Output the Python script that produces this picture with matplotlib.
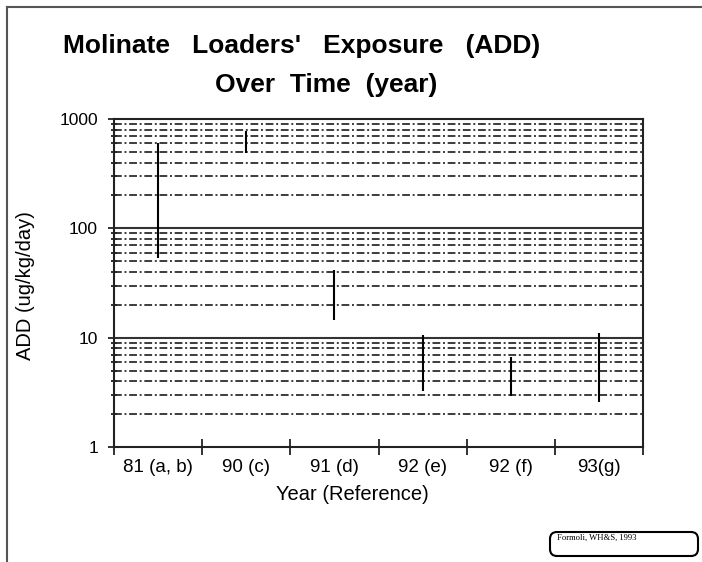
import matplotlib
matplotlib.use("Agg")
import matplotlib.pyplot as plt
from matplotlib.lines import Line2D
from matplotlib.patches import FancyBboxPatch
from matplotlib.ticker import FixedLocator, NullFormatter
import numpy as np

plt.rcParams['font.family'] = ['Liberation Sans', 'DejaVu Sans']

# ---- data ----
categories = ["81 (a, b)", "90 (c)", "91 (d)", "92 (e)", "92 (f)", "93(g)"]
add_low = [53, 485, 14.5, 3.27, 2.92, 2.6]
add_high = [600, 776, 42, 10.6, 6.7, 11.0]
y_major = [1, 10, 100, 1000]
y_major_labels = ["1", "10", "100", "1000"]
title_line1 = "Molinate   Loaders'   Exposure   (ADD)"
title_line2 = "Over  Time  (year)"
x_label = "Year (Reference)"
y_label = "ADD (ug/kg/day)"
source_note = "Formoli, WH&S, 1993"

W, H = 702, 562
fig = plt.figure(figsize=(W / 100, H / 100), dpi=100)
fig.patch.set_facecolor("white")

left, right, top, bottom = 114, 643, 119, 447
ax = fig.add_axes([left / W, 1 - bottom / H, (right - left) / W, (bottom - top) / H])
ax.set_yscale("log")
ax.set_ylim(1, 1000)
n = len(categories)
ax.set_xlim(0, n)

# grid lines
minor_vals = [m * 10 ** d for d in range(0, 3) for m in range(2, 10)]
for v in minor_vals:
    ax.axhline(v, color="#3c3c3c", lw=1.4, linestyle=(0, (4, 1.4, 1, 1.4)), zorder=1)
for v in y_major[1:-1]:
    ax.axhline(v, color="#333333", lw=1.5, zorder=1)

# range bars
xc = np.arange(n) + 0.5
ax.vlines(xc, add_low, add_high, color="black", lw=1.5, zorder=3)

# spines
for s in ax.spines.values():
    s.set_linewidth(1.5)
    s.set_color("#222222")

# y ticks
ax.yaxis.set_major_locator(FixedLocator(y_major))
ax.set_yticklabels(y_major_labels)
ax.yaxis.set_minor_locator(FixedLocator(minor_vals))
ax.yaxis.set_minor_formatter(NullFormatter())
ax.tick_params(axis="y", which="major", direction="out", length=4.5, width=1.3,
               pad=7, labelsize=12.5, color="#222222")
ax.tick_params(axis="y", which="minor", direction="inout", length=4.5, width=1.3,
               color="#222222")

# x ticks: boundaries as ticks, labels at centers
ax.xaxis.set_major_locator(FixedLocator(np.arange(n + 1)))
ax.xaxis.set_major_formatter(NullFormatter())
ax.xaxis.set_minor_locator(FixedLocator(xc))
ax.set_xticklabels(categories, minor=True)
ax.tick_params(axis="x", which="major", direction="inout", length=11, width=1.3,
               color="#222222")
ax.tick_params(axis="x", which="minor", length=0, pad=9, labelsize=13.5)

# texts
fig.text(302 / W, 1 - 53 / H, title_line1, ha="center", va="baseline",
         fontsize=19, fontweight="bold")
fig.text(326 / W, 1 - 92 / H, title_line2, ha="center", va="baseline",
         fontsize=19, fontweight="bold")
fig.text(352 / W, 1 - 500 / H, x_label, ha="center", va="baseline", fontsize=14.5)
fig.text(26 / W, 1 - 286 / H, y_label, ha="center", va="center", rotation=90,
         fontsize=14.5)

# slide frame (top and left edges)
fig.add_artist(Line2D([7 / W, 1], [1 - 7 / H, 1 - 7 / H], color="#555555", lw=1.5,
                      transform=fig.transFigure))
fig.add_artist(Line2D([7 / W, 7 / W], [0, 1 - 7 / H], color="#555555", lw=1.5,
                      transform=fig.transFigure))

# source box
box = FancyBboxPatch((5.50, 0.06), 1.48, 0.24, boxstyle="round,pad=0,rounding_size=0.07",
                     transform=fig.dpi_scale_trans, facecolor="white",
                     edgecolor="black", lw=1.5)
fig.add_artist(box)
fig.text(5.57, 0.245, source_note, transform=fig.dpi_scale_trans, ha="left",
         va="center", fontsize=6.2, family=["Liberation Serif", "DejaVu Serif"])

fig.savefig("out.png", dpi=100)
